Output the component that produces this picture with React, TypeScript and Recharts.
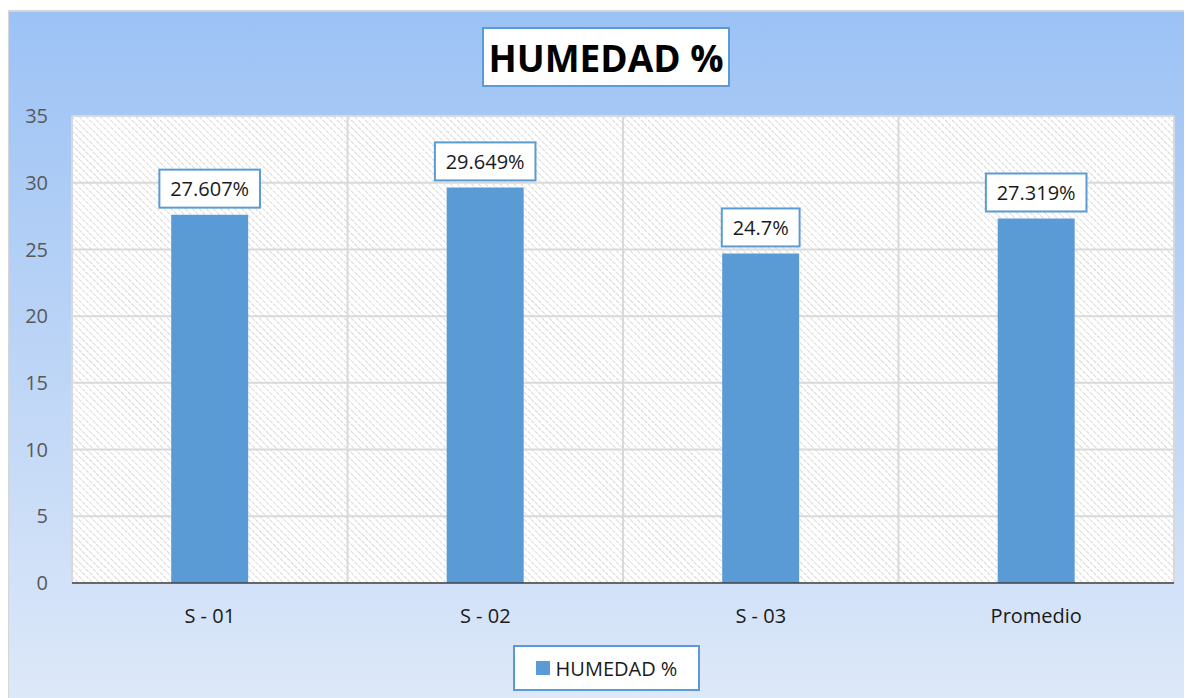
import { Bar, BarChart, CartesianGrid, LabelList, XAxis, YAxis } from 'recharts'

const categories = ['S - 01', 'S - 02', 'S - 03', 'Promedio']
const humedad = [27.607, 29.649, 24.7, 27.319]
const yTicks = [0, 5, 10, 15, 20, 25, 30, 35]

const seriesName = 'HUMEDAD %'
const barColor = '#5B9BD5'
const font = '"Open Sans", "Noto Sans", sans-serif'

const data = categories.map((name, i) => ({ name, value: humedad[i] }))

// rough text width for Open Sans 20px
const charW = (c: string) => (c === '.' ? 5.2 : c === '%' ? 16.4 : 11.4)
const textWidth = (s: string) => s.split('').reduce((a, c) => a + charW(c), 0)

const ValueBox = (props: any) => {
  const { x, y, width, value } = props
  const label = `${value}%`
  const w = textWidth(label) + 22
  const h = 38
  const cx = x + width / 2
  const top = y - 7 - h
  return (
    <g>
      <rect x={cx - w / 2} y={top} width={w} height={h} fill="#fff" stroke={barColor} strokeWidth={2} />
      <text x={cx} y={top + h / 2} textAnchor="middle" dominantBaseline="central" fontSize={20} fontFamily={font} fill="#1a1a1a">
        {label}
      </text>
    </g>
  )
}

export default function App() {
  return (
    <div style={{ position: 'relative', width: 1184, height: 690 }}>
      <svg width={0} height={0} style={{ position: 'absolute' }}>
        <defs>
          <pattern id="hatch" width={5} height={5} patternUnits="userSpaceOnUse" patternTransform="rotate(-45)">
            <rect width={5} height={5} fill="#ffffff" />
            <line x1={0} y1={0} x2={0} y2={5} stroke="#cfcfcf" strokeWidth={1.6} strokeDasharray="2 1" />
          </pattern>
        </defs>
      </svg>
      <div
        style={{
          position: 'absolute',
          left: -1,
          top: 2,
          width: 1185,
          height: 688,
          background: 'linear-gradient(to bottom, #9cc2f5 0%, #b9d3f6 45%, #dde8f9 100%)',
          borderLeft: '2px solid #d6d6d6',
          borderTop: '2px solid #d6d6d6',
          boxSizing: 'border-box',
        }}
      >
        <BarChart
          width={1185}
          height={688}
          data={data}
          margin={{ top: 104, right: 20, left: 13, bottom: 87 }}
          barCategoryGap="36%"
        >
          <CartesianGrid
            fill="url(#hatch)"
            stroke="#d9d9d9"
            strokeWidth={2}
            verticalCoordinatesGenerator={({ offset }: any) =>
              [0, 1, 2, 3, 4].map((i) => offset.left + (i * offset.width) / categories.length)
            }
          />
          <XAxis
            dataKey="name"
            tickLine={false}
            tickSize={0}
            tickMargin={26}
            height={30}
            axisLine={{ stroke: '#404040', strokeWidth: 1.5 }}
            tick={{ fontSize: 20, fontFamily: font, fill: '#1a1a1a' }}
          />
          <YAxis
            domain={[0, 35]}
            ticks={yTicks}
            width={50}
            tickLine={false}
            tickSize={0}
            tickMargin={24}
            axisLine={false}
            tick={{ fontSize: 20, fontFamily: font, fill: '#595959' }}
          />
          <Bar dataKey="value" name={seriesName} fill={barColor} isAnimationActive={false}>
            <LabelList dataKey="value" content={ValueBox} />
          </Bar>
        </BarChart>
        <div
          style={{
            position: 'absolute',
            left: 473,
            top: 15,
            width: 248,
            height: 60,
            boxSizing: 'border-box',
            background: '#fff',
            border: `2px solid ${barColor}`,
            display: 'flex',
            alignItems: 'center',
            justifyContent: 'center',
            fontFamily: font,
            fontWeight: 700,
            fontSize: 37,
            color: '#000',
          }}
        >
          HUMEDAD %
        </div>
        <div
          style={{
            position: 'absolute',
            left: 504,
            top: 633,
            width: 187,
            height: 46,
            boxSizing: 'border-box',
            background: '#fff',
            border: `2px solid ${barColor}`,
            display: 'flex',
            alignItems: 'center',
            justifyContent: 'center',
            fontFamily: font,
            fontSize: 20,
            color: '#1a1a1a',
          }}
        >
          <span style={{ display: 'inline-block', width: 14, height: 14, background: barColor, marginRight: 6 }} />
          {seriesName}
        </div>
      </div>
    </div>
  )
}
